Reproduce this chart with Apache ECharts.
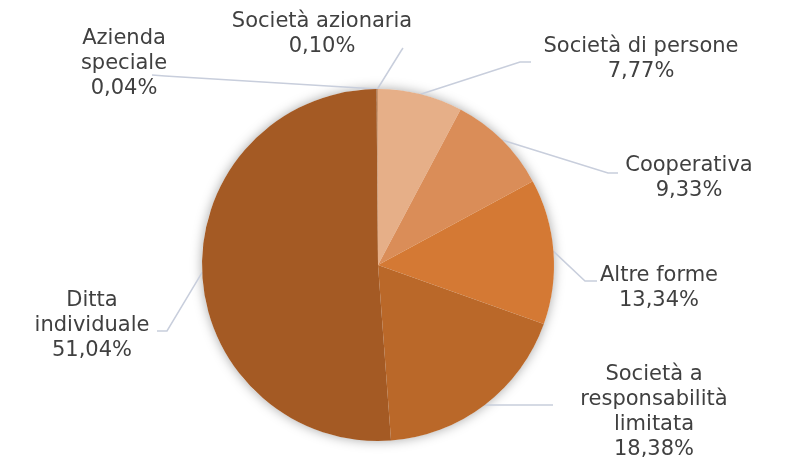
<!DOCTYPE html>
<html><head><meta charset="utf-8">
<script src="https://cdn.jsdelivr.net/npm/echarts/dist/echarts.min.js"></script>
<style>html,body{margin:0;padding:0;background:#fff}#c{width:790px;height:466px}</style>
</head><body><div id="c"></div>
<script>
// Data
const categories = ['Società di persone', 'Cooperativa', 'Altre forme', 'Società a responsabilità limitata', 'Ditta individuale', 'Azienda speciale', 'Società azionaria'];
const labelTexts = ['Società di persone', 'Cooperativa', 'Altre forme', 'Società a\nresponsabilità\nlimitata', 'Ditta\nindividuale', 'Azienda\nspeciale', 'Società azionaria'];
const shares = [7.77, 9.33, 13.34, 18.38, 51.04, 0.04, 0.10];

// Styling
const colors = ['#E6AF88', '#DA8D58', '#D47934', '#BA6829', '#A45A24', '#8A4A1E', '#C9946C'];
const CENTER = [378, 265];
const RADIUS = 176;
// label anchor (block centre) and leader-line elbow/end, by slice index
const labelSpots = [
  { x: 641, y: 59,  line: [[520, 62], [531, 62]] },
  { x: 689, y: 178, line: [[608, 173], [618, 173]] },
  { x: 659, y: 288, line: [[585, 281], [597, 281]] },
  { x: 654, y: 412, line: [[540, 405], [553, 405]] },
  { x: 92,  y: 326, line: [[167, 331], [157, 331]] },
  { x: 124, y: 64,  line: [[165, 76], [152, 75]] },
  { x: 322, y: 34,  line: [[401, 51], [403, 48]] }
];

const chart = echarts.init(document.getElementById('c'), null, { renderer: 'canvas' });
const fmt = v => v.toFixed(2).replace('.', ',') + '%';

chart.setOption({
  animation: false,
  backgroundColor: '#ffffff',
  series: [
    {
      type: 'pie',
      silent: true,
      center: CENTER,
      radius: RADIUS,
      z: 1,
      label: { show: false },
      labelLine: { show: false },
      data: [{ value: 1, itemStyle: { color: '#ffffff', shadowBlur: 12, shadowColor: 'rgba(0,0,0,0.35)' } }]
    },
    {
      type: 'pie',
      z: 2,
      center: CENTER,
      radius: RADIUS,
      startAngle: 90,
      clockwise: true,
      avoidLabelOverlap: false,
      minShowLabelAngle: 0,
      data: categories.map((c, i) => ({ name: c, value: shares[i], itemStyle: { color: colors[i] } })),
      label: {
        show: true,
        position: 'outside',
        formatter: p => labelTexts[p.dataIndex] + '\n' + fmt(shares[p.dataIndex]),
        fontFamily: 'DejaVu Sans',
        fontSize: 21,
        lineHeight: 25,
        color: '#404040',
        align: 'center'
      },
      labelLine: {
        show: true,
        length: 10,
        length2: 10,
        lineStyle: { color: '#C8CEDC', width: 1.5 }
      },
      labelLayout: function (p) {
        const s = labelSpots[p.dataIndex];
        const start = (p.labelLinePoints && p.labelLinePoints[0]) || s.line[0];
        return {
          x: s.x,
          y: s.y,
          align: 'center',
          verticalAlign: 'middle',
          labelLinePoints: [start, s.line[0], s.line[1]]
        };
      }
    }
  ]
});
</script>
</body></html>
